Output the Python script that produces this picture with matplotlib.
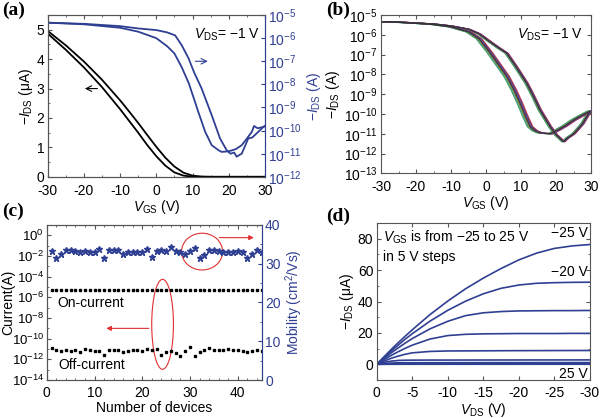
import numpy as np
import matplotlib.pyplot as plt
from matplotlib.patches import Ellipse
from matplotlib.ticker import MultipleLocator, NullFormatter

plt.rcParams['font.family'] = ['Liberation Sans', 'DejaVu Sans']
plt.rcParams['mathtext.fontset'] = 'custom'
plt.rcParams['mathtext.rm'] = 'Liberation Sans'
plt.rcParams['mathtext.it'] = 'Liberation Sans:italic'
plt.rcParams['axes.unicode_minus'] = False
plt.rcParams['font.size'] = 10
plt.rcParams['xtick.direction'] = 'in'
plt.rcParams['ytick.direction'] = 'in'
plt.rcParams['xtick.major.size'] = 3
plt.rcParams['ytick.major.size'] = 3
plt.rcParams['xtick.minor.size'] = 1.5
plt.rcParams['ytick.minor.size'] = 1.5

BLUE = '#2f3f92'
FRAME = '#555555'
RED = '#e03030'

# ---- panel (a): transfer curve, linear (black) and log (blue)
va_lin_1 = [-30, -25, -20, -15, -10, -7.5, -5, -2.5, 0, 2.5, 5, 7.5, 10, 12, 30]
ia_lin_1 = [4.87, 4.32, 3.72, 3.05, 2.3, 1.9, 1.5, 1.08, 0.7, 0.38, 0.15, 0.04, 0.005, 0.0, 0.0]
va_lin_2 = [-30, -25, -20, -15, -10, -7.5, -5, -2.5, 0, 2.5, 5, 7.5, 10, 12.5, 15, 30]
ia_lin_2 = [4.96, 4.47, 3.92, 3.3, 2.6, 2.22, 1.83, 1.42, 1.02, 0.65, 0.35, 0.14, 0.04, 0.008,
            0.0, 0.0]

va_log_1 = [-30, -20, -10, -5, 0, 3, 5, 7, 9, 11.6, 13.5, 15.3, 17.1, 18, 19.9, 21, 22,
            23.6, 25, 26.4, 27, 28, 29.6, 30]
la_log_1 = [-5.33, -5.40, -5.55, -5.72, -6.0, -6.35, -6.66, -7.25, -7.96, -9.19, -10.05,
            -10.63, -10.84, -10.92, -10.9, -10.85, -10.8, -10.63, -10.35, -10.05, -9.8,
            -9.9, -9.84, -9.8]
va_log_2 = [-30, -20, -10, -5, 0, 3, 5.2, 7, 8.9, 10.5, 12.5, 15.3, 17.6, 19.4, 20.5, 21.5,
            22.2, 23, 23.6, 25.4, 26.5, 28.2, 29.6, 30]
la_log_2 = [-5.33, -5.38, -5.48, -5.58, -5.65, -5.75, -5.88, -6.3, -6.87, -7.5, -8.17,
            -9.33, -10.34, -10.84, -11.0, -10.95, -11.13, -11.05, -11.0, -10.34, -10.3,
            -10.05, -9.84, -9.8]

# ---- panel (b): transfer curves of several devices
vb_fwd = [-30, -25, -20, -15, -10, -5, -2, 1.1, 3.5, 5.9, 8, 9.7, 11.2, 12.6, 14, 15.4,
          18.3, 20, 22.5, 25, 27, 29.7]
lb_fwd = [-5.34, -5.37, -5.42, -5.48, -5.6, -5.85, -6.2, -6.9, -7.5, -8.1, -8.8, -9.46,
          -10.1, -10.64, -10.85, -10.95, -11.0, -10.85, -10.6, -10.3, -10.1, -9.85]
vb_rev = [-30, -25, -20, -15, -10, -5, -2, 1.1, 3.5, 5.9, 8.5, 11.6, 13.5, 15.4, 18.3, 20,
          21.1, 22.1, 23.3, 25, 27.5, 29.7]
lb_rev = [-5.33, -5.35, -5.4, -5.45, -5.55, -5.72, -5.95, -6.35, -6.65, -6.93, -7.6, -8.45,
          -9.1, -9.8, -10.64, -11.05, -11.23, -11.4, -11.2, -11.0, -10.5, -9.85]
dev_shift = [-0.8, -0.5, 0.8, 0.6, -0.3, 0.4, 0.2, 0.0]
dev_colors = ['#3d9a5c', '#2aa5a5', '#c4306c', '#a04a2e', '#8c8c32', '#2f3f9f',
              '#7b3f92', '#333333']

# ---- panel (c): statistics of 45 devices
devices = np.arange(1, 46)
mobility = [33.2, 31.5, 32.5, 33.6, 33.6, 33.4, 33.0, 33.2, 33.0, 33.1, 33.8, 31.5, 33.6,
            33.6, 33.5, 32.5, 33.0, 33.1, 33.0, 33.0, 33.7, 31.8, 33.4, 33.6, 33.3, 34.2,
            33.2, 33.0, 32.6, 33.2, 34.0, 31.4, 32.3, 33.6, 33.6, 33.3, 32.9, 33.0, 33.0,
            33.3, 33.0, 31.4, 32.5, 33.6, 33.1]
on_current = [5.2e-6, 5.3e-6, 5.2e-6, 5.3e-6, 5.2e-6, 5.2e-6, 5.3e-6, 5.2e-6, 5.2e-6,
              5.3e-6, 5.2e-6, 5.2e-6, 5.3e-6, 5.2e-6, 5.2e-6, 5.0e-6, 5.2e-6, 5.2e-6,
              5.3e-6, 5.2e-6, 5.2e-6, 5.3e-6, 5.4e-6, 5.4e-6, 5.3e-6, 5.3e-6, 4.9e-6,
              4.9e-6, 5.2e-6, 5.2e-6, 5.3e-6, 5.0e-6, 5.2e-6, 5.2e-6, 5.3e-6, 5.2e-6,
              5.2e-6, 5.4e-6, 5.2e-6, 5.2e-6, 5.3e-6, 5.2e-6, 5.2e-6, 5.3e-6, 5.2e-6]
off_log = [-10.95, -11.1, -11.15, -11.05, -11.15, -11.1, -11.3, -11.0, -11.1, -11.2, -11.2,
           -11.55, -11.1, -11.1, -11.1, -11.3, -11.15, -11.05, -11.05, -11.15, -11.0,
           -11.1, -11.0, -11.55, -11.25, -11.2, -11.4, -11.7, -11.15, -10.8, -11.65,
           -11.25, -11.1, -10.95, -11.05, -11.1, -11.1, -11.0, -11.1, -11.1, -11.2,
           -11.25, -11.15, -11.1, -11.15]

# ---- panel (d): output curves, VGS from -25 to 25 V
vds = [0, -1, -2, -3, -4, -5, -7.5, -10, -12.5, -15, -17.5, -20, -22.5, -25, -27.5, -30]
ids_out = [
    [0, 4.7, 9.3, 13.7, 17.9, 22.0, 31.7, 40.3, 48.1, 54.9, 61.0, 66.5, 70.8, 73.8, 75.4, 76.3],
    [0, 4.3, 8.3, 12.2, 16.0, 19.5, 27.5, 34.4, 40.2, 44.9, 48.4, 50.5, 51.6, 52.0, 52.2, 52.3],
    [0, 3.7, 7.2, 10.4, 13.5, 16.4, 22.6, 27.4, 31.0, 32.8, 33.6, 34.0, 34.1, 34.2, 34.2, 34.3],
    [0, 2.9, 5.6, 8.0, 10.2, 12.2, 16.1, 18.3, 19.1, 19.4, 19.5, 19.6, 19.6, 19.6, 19.7, 19.7],
    [0, 2.0, 3.8, 5.2, 6.4, 7.3, 8.2, 8.5, 8.55, 8.6, 8.65, 8.7, 8.72, 8.75, 8.78, 8.8],
    [0, 1.2, 2.0, 2.45, 2.6, 2.65, 2.7, 2.7, 2.72, 2.73, 2.75, 2.76, 2.77, 2.78, 2.79, 2.8],
    [0, 0.5, 0.8, 0.95, 1.0, 1.0, 1.02, 1.04, 1.05, 1.06, 1.07, 1.08, 1.08, 1.09, 1.1, 1.1],
    [0, 0.2, 0.3, 0.33, 0.35, 0.35, 0.36, 0.37, 0.37, 0.38, 0.38, 0.39, 0.39, 0.4, 0.4, 0.4],
    [0, 0.05, 0.1, 0.12, 0.12, 0.12, 0.13, 0.13, 0.13, 0.14, 0.14, 0.14, 0.14, 0.15, 0.15, 0.15],
    [0, 0.02, 0.03, 0.03, 0.03, 0.03, 0.04, 0.04, 0.04, 0.04, 0.04, 0.05, 0.05, 0.05, 0.05, 0.05],
    [0, 0, 0, 0, 0, 0, 0, 0, 0, 0, 0, 0, 0, 0, 0, 0],
]

fig = plt.figure(figsize=(6, 4.18), dpi=100)


def style(ax):
    for s in ax.spines.values():
        s.set_color(FRAME)
    ax.tick_params(which='both', top=True, right=True, color=FRAME, labelsize=10)
    ax.tick_params(axis='x', pad=5)
    ax.tick_params(axis='y', pad=2.5)


def panel_label(x, y, s):
    fig.text(x, y, s, family='Liberation Serif', fontweight='bold', fontsize=14, va='top')


# (a)
ax = fig.add_axes([0.0795, 0.577, 0.362, 0.387])
ax.plot(va_lin_1, ia_lin_1, color='k', lw=1.3)
ax.plot(va_lin_2, ia_lin_2, color='k', lw=1.3)
ax.set_xlim(-30, 30)
ax.set_ylim(0, 5.5)
ax.xaxis.set_major_locator(MultipleLocator(10))
ax.xaxis.set_minor_locator(MultipleLocator(5))
ax.yaxis.set_major_locator(MultipleLocator(1))
ax.yaxis.set_minor_locator(MultipleLocator(0.5))
style(ax)
ax.tick_params(which='both', right=False)
ax.set_xlabel(r'$V_{\rm GS}$ (V)', labelpad=0)
ax.set_ylabel(r'$-I_{\rm DS}$ (μA)', labelpad=1)
ax.annotate('', xy=(-20.5, 3.0), xytext=(-15.5, 3.0),
            arrowprops=dict(arrowstyle='->', color='k', lw=0.8))
ax.text(0.975, 0.93, r'$V_{\rm DS}$= −1 V', transform=ax.transAxes, ha='right', va='top')
ax2 = ax.twinx()
ax2.set_yscale('log')
ax2.plot(va_log_1, 10.0 ** np.array(la_log_1), color=BLUE, lw=1.3)
ax2.plot(va_log_2, 10.0 ** np.array(la_log_2), color=BLUE, lw=1.3)
ax2.set_ylim(1e-12, 1e-5)
ax2.set_yticks([10.0 ** k for k in range(-12, -4)])
ax2.yaxis.set_minor_formatter(NullFormatter())
for s in ax2.spines.values():
    s.set_color(FRAME)
ax2.spines['right'].set_color(BLUE)
ax2.tick_params(which='both', colors=BLUE, labelsize=10, pad=2.5)
ax2.tick_params(which='minor', length=1.5)
ax2.set_ylabel(r'$-I_{\rm DS}$ (A)', color=BLUE, labelpad=2)
ax2.annotate('', xy=(15, 1e-7), xytext=(10, 1e-7),
             arrowprops=dict(arrowstyle='->', color=BLUE, lw=0.8))
panel_label(0.003, 0.997, '(a)')

# (b)
bx = fig.add_axes([0.635, 0.585, 0.35, 0.379])
bx.set_yscale('log')
for dv, c in zip(dev_shift, dev_colors):
    bx.plot(np.array(vb_fwd) + dv, 10.0 ** np.array(lb_fwd), color=c, lw=0.8)
    bx.plot(np.array(vb_rev) + dv * 0.6, 10.0 ** np.array(lb_rev), color=c, lw=0.8)
bx.set_xlim(-30, 30)
bx.set_ylim(1e-13, 1e-5)
bx.set_yticks([10.0 ** k for k in range(-13, -4)])
bx.yaxis.set_minor_formatter(NullFormatter())
bx.xaxis.set_major_locator(MultipleLocator(10))
bx.xaxis.set_minor_locator(MultipleLocator(5))
style(bx)
bx.set_xlabel(r'$V_{\rm GS}$ (V)', labelpad=0)
bx.set_ylabel(r'$-I_{\rm DS}$ (A)', labelpad=1)
bx.text(0.96, 0.93, r'$V_{\rm DS}$= −1 V', transform=bx.transAxes, ha='right', va='top')
panel_label(0.543, 0.997, '(b)')

# (c)
cx = fig.add_axes([0.078, 0.0909, 0.358, 0.371])
cx.set_yscale('log')
cx.plot(devices, on_current, 's', color='k', ms=2.1)
cx.plot(devices, 10.0 ** np.array(off_log), 's', color='k', ms=2.1)
cx.set_xlim(0, 45)
cx.set_ylim(1e-14, 1e1)
cx.set_yticks([10.0 ** k for k in range(-14, 1, 2)])
cx.set_yticks([10.0 ** k for k in range(-13, 1, 2)], minor=True)
cx.yaxis.set_minor_formatter(NullFormatter())
cx.xaxis.set_major_locator(MultipleLocator(10))
cx.xaxis.set_minor_locator(MultipleLocator(2))
style(cx)
cx.tick_params(which='both', right=False)
cx.tick_params(axis='y', labelsize=9.5, pad=2)
cx.tick_params(axis='x', pad=4)
cx.set_xlabel('Number of devices', labelpad=1)
cx.set_ylabel('Current(A)')
cx.yaxis.set_label_coords(-0.145, 0.5)
cx.text(0.047, 0.495, 'On-current', transform=cx.transAxes, va='center')
cx.text(0.054, 0.097, 'Off-current', transform=cx.transAxes, va='center')
cx.add_patch(Ellipse((0.539, 0.359), 0.101, 0.58, transform=cx.transAxes,
                     fill=False, ec=RED, lw=0.8))
cx.add_patch(Ellipse((0.723, 0.828), 0.191, 0.237, transform=cx.transAxes,
                     fill=False, ec=RED, lw=0.8))
cx.annotate('', xy=(0.264, 0.333), xytext=(0.488, 0.333), xycoords='axes fraction',
            arrowprops=dict(arrowstyle='-|>', color=RED, lw=0.8, mutation_scale=7))
cx.annotate('', xy=(0.977, 0.918), xytext=(0.79, 0.918), xycoords='axes fraction',
            arrowprops=dict(arrowstyle='-|>', color=RED, lw=0.8, mutation_scale=7))
cx2 = cx.twinx()
cx2.plot(devices, mobility, '*', color=BLUE, ms=5)
cx2.set_ylim(0, 40)
cx2.yaxis.set_major_locator(MultipleLocator(10))
cx2.yaxis.set_minor_locator(MultipleLocator(5))
for s in cx2.spines.values():
    s.set_color(FRAME)
cx2.spines['right'].set_color(BLUE)
cx2.tick_params(which='both', colors=BLUE, labelsize=10, pad=2.5)
cx2.tick_params(which='minor', length=1.5)
cx2.set_ylabel(r'Mobility (cm$^2$/Vs)', color=BLUE, labelpad=2)
panel_label(0.003, 0.515, '(c)')

# (d)
dx = fig.add_axes([0.628, 0.0909, 0.355, 0.3756])
for row in ids_out:
    dx.plot(vds, row, color=BLUE, lw=1.2)
dx.set_xlim(0, -30)
dx.set_ylim(-10, 90)
dx.xaxis.set_major_locator(MultipleLocator(5))
dx.yaxis.set_major_locator(MultipleLocator(20))
dx.yaxis.set_minor_locator(MultipleLocator(10))
style(dx)
dx.tick_params(axis='x', pad=4)
dx.set_xlabel(r'$V_{\rm DS}$ (V)', labelpad=1)
dx.set_ylabel(r'$-I_{\rm DS}$ (μA)', labelpad=1)
dx.text(0.03, 0.965, r'$V_{\rm GS}$ is from −25 to 25 V' + '\nin 5 V steps',
        transform=dx.transAxes, va='top', linespacing=1.4)
dx.text(-29.7, 79, '−25 V', ha='right', va='bottom')
dx.text(-29.7, 54.5, '−20 V', ha='right', va='bottom')
dx.text(-29.7, -2, '25 V', ha='right', va='top')
panel_label(0.543, 0.503, '(d)')

fig.savefig('out.png', dpi=100)
